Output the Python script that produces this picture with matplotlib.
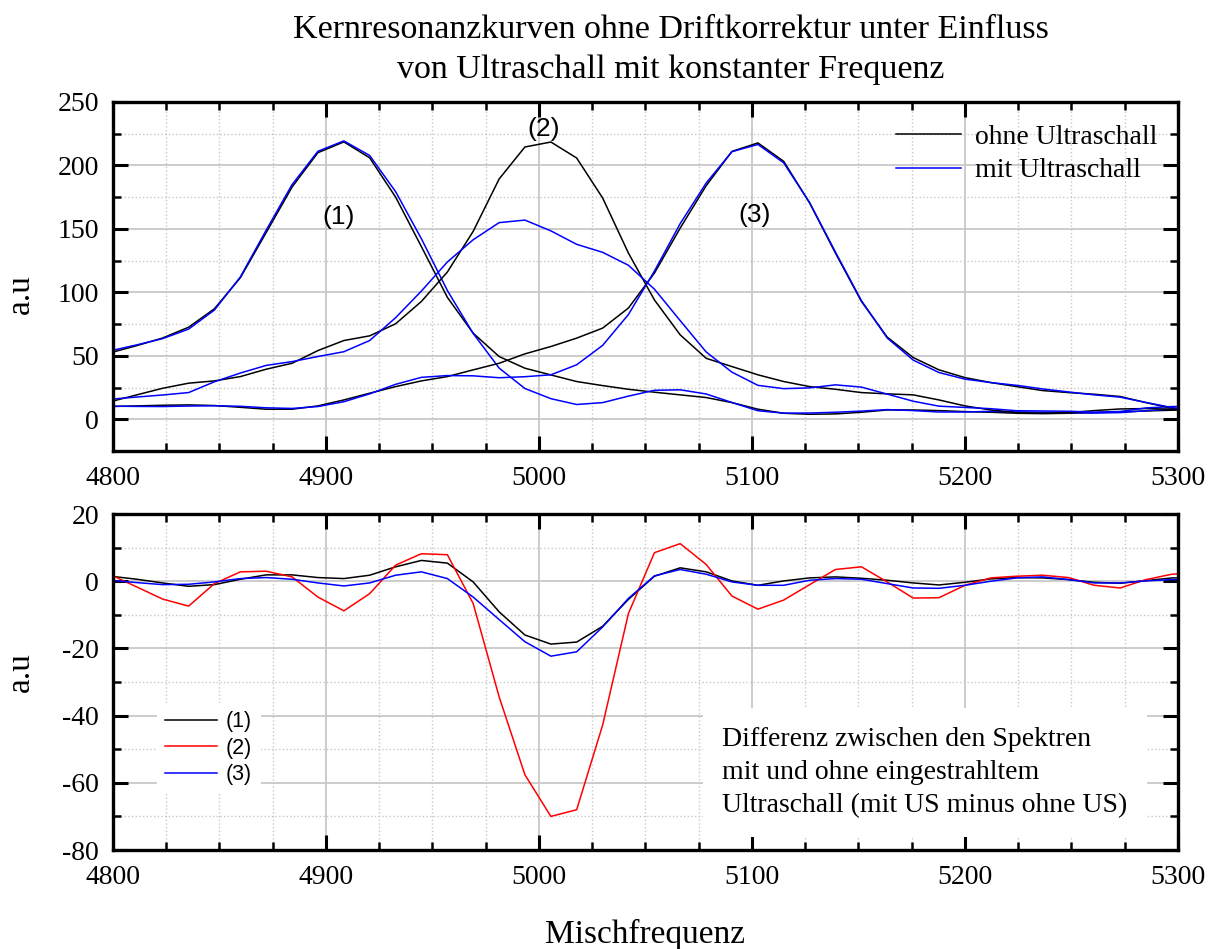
import matplotlib
matplotlib.use("Agg")
import matplotlib.pyplot as plt
from matplotlib.ticker import MultipleLocator

plt.rcParams["font.family"] = ["Liberation Serif", "DejaVu Serif"]
plt.rcParams["axes.unicode_minus"] = False

# Mischfrequenz (Messpunkte)
freq = [4799.0, 4811.2, 4823.3, 4835.5, 4847.6, 4859.8, 4871.9, 4884.1, 4896.2, 4908.4,
        4920.5, 4932.7, 4944.8, 4957.0, 4969.1, 4981.3, 4993.4, 5005.6, 5017.7, 5029.9,
        5042.0, 5054.2, 5066.3, 5078.5, 5090.6, 5102.8, 5114.9, 5127.1, 5139.2, 5151.4,
        5163.5, 5175.7, 5187.8, 5200.0, 5212.1, 5224.3, 5236.4, 5248.6, 5260.7, 5272.9,
        5285.0, 5297.2, 5309.3]

# Spektren ohne Ultraschall
ohne_1 = [52.5, 58, 64, 72.5, 87, 111.5, 147, 183, 210, 218.5, 206, 175, 136, 96, 67.8,
          49.4, 40.2, 34.9, 29.7, 26.5, 23.6, 21.3, 19.2, 17.1, 13.1, 7.9, 4.7, 3.9, 4.2,
          5.5, 7.3, 7.3, 6.8, 6.0, 5.5, 4.7, 4.4, 4.7, 5.2, 5.8, 6.5, 7.1, 7.5]
ohne_2 = [13.9, 19.2, 24.4, 28.4, 30.2, 33.6, 39.4, 44.1, 54.1, 62, 65.7, 75.2, 92.8, 116,
          148, 189.3, 214.5, 218.4, 205.8, 174.3, 130.9, 94, 66.5, 48, 41.5, 35, 29.7, 25.7,
          23.6, 21, 20, 19.2, 15.2, 10.5, 7.3, 5.2, 4.7, 5.2, 6.8, 8.1, 8.4, 7.9, 7.5]
ohne_3 = [10, 10.5, 11, 11.3, 10.8, 9.4, 7.9, 7.9, 10.5, 15.2, 20.5, 25.7, 30.2, 33.6, 38.9,
          44.1, 51.5, 57.3, 63.9, 71.8, 87.6, 115.1, 150.6, 184, 211, 217.7, 203.2, 170.3,
          130.9, 92.8, 64.7, 48.6, 38.9, 32.8, 28.9, 25.7, 22.6, 21, 19.7, 17.9, 13.1, 8.7, 6]

# Spektren mit Ultraschall
mit_1 = [54, 58.6, 63.5, 71, 86, 112.1, 148.9, 184.9, 211.1, 219.3, 207.8, 179.3, 142.2,
         101.4, 67.6, 40.3, 24.2, 16.2, 11.6, 13.1, 18.2, 22.8, 23.2, 19.9, 13.2, 6.7, 4.8,
         4.9, 5.5, 6.4, 7.6, 6.8, 5.7, 5.7, 6.2, 5.8, 5.4, 5.2, 4.9, 5.2, 6.7, 8.1, 8.5]
mit_2 = [15.8, 17.5, 19.1, 21.0, 29.5, 36.4, 42.4, 45.4, 49.4, 53.2, 62.0, 80.0, 101.0,
         123.9, 141.4, 154.9, 156.9, 148.4, 137.8, 131.5, 121.3, 102.5, 77.7, 53.0, 37.1,
         26.7, 24.1, 24.7, 27.1, 25.3, 19.8, 14.2, 10.3, 9.3, 8.3, 6.7, 6.5, 6.3, 5.6, 6.1,
         8.9, 10.0, 10.0]
mit_3 = [10.3, 10.1, 10.0, 10.4, 10.6, 10.2, 9.0, 8.5, 10.0, 13.8, 20.0, 27.5, 33.0, 34.4,
         34.2, 32.7, 33.5, 35.0, 42.9, 58.2, 82.5, 116.7, 154.1, 186.1, 210.8, 216.5, 202.0,
         170.6, 131.7, 93.4, 64.0, 46.6, 36.8, 31.6, 28.9, 26.7, 23.9, 21.5, 19.2, 17.4,
         13.2, 9.2, 6.5]

# Differenz (mit US minus ohne US)
diff_1 = [1.5, 0.6, -0.5, -1.5, -1, 0.6, 1.9, 1.9, 1.1, 0.8, 1.8, 4.3, 6.2, 5.4, -0.2, -9.1,
          -16, -18.7, -18.1, -13.4, -5.4, 1.5, 4, 2.8, 0.1, -1.2, 0.1, 1, 1.3, 0.9, 0.3,
          -0.5, -1.1, -0.3, 0.7, 1.1, 1, 0.5, -0.3, -0.6, 0.2, 1, 1]
diff_2 = [1.9, -1.7, -5.3, -7.4, -0.7, 2.8, 3, 1.3, -4.7, -8.8, -3.7, 4.8, 8.2, 7.9, -6.6,
          -34.4, -57.6, -70, -68, -42.8, -9.6, 8.5, 11.2, 5, -4.4, -8.3, -5.6, -1, 3.5, 4.3,
          -0.2, -5, -4.9, -1.2, 1, 1.5, 1.8, 1.1, -1.2, -2, 0.5, 2.1, 2.5]
diff_3 = [0.3, -0.4, -1, -0.9, -0.2, 0.8, 1.1, 0.6, -0.5, -1.4, -0.5, 1.8, 2.8, 0.8, -4.7,
          -11.4, -18, -22.3, -21, -13.6, -5.1, 1.6, 3.5, 2.1, -0.2, -1.2, -1.2, 0.3, 0.8, 0.6,
          -0.7, -2, -2.1, -1.2, 0, 1, 1.3, 0.5, -0.5, -0.5, 0.1, 0.5, 0.5]

peak_labels = ["(1)", "(2)", "(3)"]
peak_pos = [(4906, 159), (5002, 229), (5101, 161)]

fig = plt.figure(figsize=(12.11, 9.49), dpi=100)
ax1 = fig.add_axes([0.0933, 0.5248, 0.8794, 0.3678])
ax2 = fig.add_axes([0.0933, 0.1043, 0.8794, 0.3540])


def style_axis(ax, ymaj, ymin):
    ax.set_xlim(4800, 5300)
    ax.xaxis.set_major_locator(MultipleLocator(100))
    ax.xaxis.set_minor_locator(MultipleLocator(25))
    ax.yaxis.set_major_locator(MultipleLocator(ymaj))
    ax.yaxis.set_minor_locator(MultipleLocator(ymin))
    ax.grid(which="major", color="#c8c8c8", lw=1.3, ls="-", zorder=0)
    ax.grid(which="minor", color="#c8c8c8", lw=1.0, ls=":", zorder=0)
    ax.set_axisbelow(True)
    ax.tick_params(which="both", direction="in", top=True, right=True, labelsize=20)
    ax.tick_params(axis="x", which="both", pad=11)
    ax.tick_params(axis="y", which="both", pad=10)
    ax.tick_params(which="major", length=11, width=2.2)
    ax.tick_params(which="minor", length=6, width=1.8)
    for s in ax.spines.values():
        s.set_linewidth(2.4)


# oberes Diagramm: Spektren
ax1.plot(freq, ohne_1, color="black", lw=1.1, label="ohne Ultraschall")
ax1.plot(freq, mit_1, color="#0000ff", lw=1.1, label="mit Ultraschall")
ax1.plot(freq, ohne_2, color="black", lw=1.1)
ax1.plot(freq, mit_2, color="#0000ff", lw=1.1)
ax1.plot(freq, ohne_3, color="black", lw=1.1)
ax1.plot(freq, mit_3, color="#0000ff", lw=1.1)
ax1.set_ylim(-25, 250)
style_axis(ax1, 50, 25)
for lab, (px, py) in zip(peak_labels, peak_pos):
    ax1.text(px, py, lab, family="Liberation Sans", fontsize=19,
             ha="center", va="center")
leg1 = ax1.legend(loc="upper right", bbox_to_anchor=(1.004, 1.008), frameon=False,
                  fontsize=20, handlelength=2.35, handletextpad=0.5, labelspacing=0.3)
ax1.set_ylabel("a.u", fontsize=24)
ax1.yaxis.set_label_coords(-0.072, 0.45)

# unteres Diagramm: Differenzen
ax2.plot(freq, diff_1, color="black", lw=1.1, label="(1)")
ax2.plot(freq, diff_2, color="#ff0000", lw=1.1, label="(2)")
ax2.plot(freq, diff_3, color="#0000ff", lw=1.1, label="(3)")
ax2.set_ylim(-80, 20)
style_axis(ax2, 20, 10)
leg2 = ax2.legend(loc="upper left", bbox_to_anchor=(0.031, 0.47), frameon=True,
                  fancybox=False, edgecolor="none", framealpha=1,
                  prop={"family": "Liberation Sans", "size": 15.5},
                  handlelength=2.4, handletextpad=0.4, labelspacing=0.25)
ax2.text(0.572, 0.365,
         "Differenz zwischen den Spektren\nmit und ohne eingestrahltem\n"
         "Ultraschall (mit US minus ohne US)",
         transform=ax2.transAxes, fontsize=20, ha="left", va="top",
         linespacing=1.4,
         bbox=dict(facecolor="white", edgecolor="none", pad=14))
ax2.set_ylabel("a.u", fontsize=24)
ax2.yaxis.set_label_coords(-0.072, 0.53)

fig.text(0.554, 0.948,
         "Kernresonanzkurven ohne Driftkorrektur unter Einfluss\n"
         "von Ultraschall mit konstanter Frequenz",
         fontsize=24.5, ha="center", va="center", linespacing=1.4)
fig.text(0.533, 0.0148, "Mischfrequenz", fontsize=24, ha="center", va="center")

fig.savefig("out.png", dpi=100)
